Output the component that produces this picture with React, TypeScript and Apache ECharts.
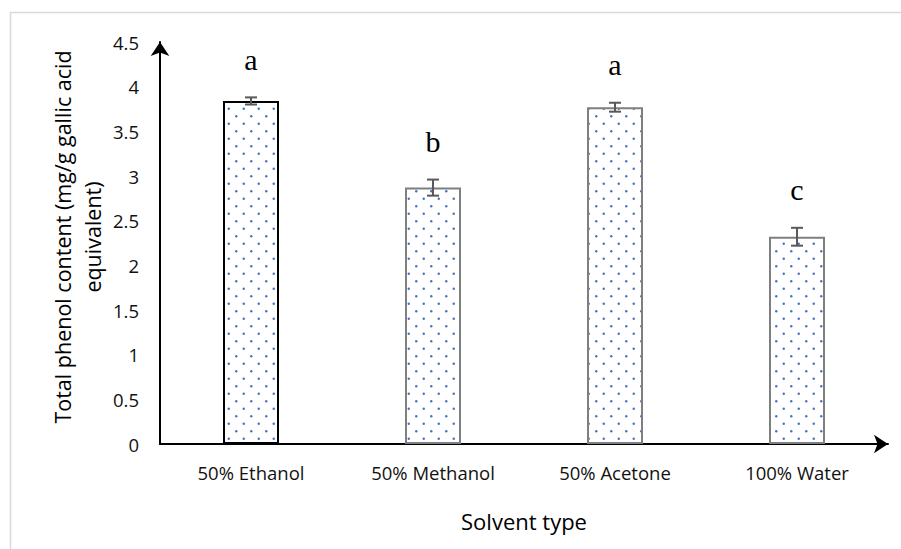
import React, { useEffect, useRef } from "react";
import * as echarts from "echarts";

const categories = ["50% Ethanol", "50% Methanol", "50% Acetone", "100% Water"];
const means = [3.84, 2.87, 3.77, 2.32];
const errors = [0.04, 0.09, 0.05, 0.1];
const letters = ["a", "b", "a", "c"];
const yMin = 0;
const yMax = 4.5;
const yInterval = 0.5;
const xTitle = "Solvent type";
const yTitle = "Total phenol content (mg/g gallic acid\nequivalent)";

export default function App() {
  const ref = useRef<HTMLDivElement>(null);
  useEffect(() => {
    if (!ref.current) return;
    const chart = echarts.init(ref.current, null, { renderer: "svg" });
    const c = document.createElement("canvas");
    c.width = 15;
    c.height = 15;
    const ctx = c.getContext("2d")!;
    ctx.fillStyle = "#ffffff";
    ctx.fillRect(0, 0, 15, 15);
    ctx.fillStyle = "#4472c4";
    ctx.beginPath();
    ctx.arc(3.75, 3.75, 1.2, 0, Math.PI * 2);
    ctx.fill();
    ctx.beginPath();
    ctx.arc(11.25, 11.25, 1.2, 0, Math.PI * 2);
    ctx.fill();
    const pattern = { image: c, repeat: "repeat" };
    const font = "'Open Sans', sans-serif";
    chart.setOption({
      animation: false,
      backgroundColor: "#ffffff",
      grid: { left: 160, right: 13, top: 42, bottom: 105 },
      xAxis: {
        type: "category",
        data: categories,
        name: xTitle,
        nameLocation: "middle",
        nameGap: 66,
        nameTextStyle: { fontFamily: font, fontSize: 22, color: "#000" },
        axisLine: {
          lineStyle: { color: "#000", width: 2 },
          symbol: ["none", "arrow"],
          symbolSize: [14, 14],
        },
        axisTick: { show: false },
        axisLabel: { fontFamily: font, fontSize: 18.5, color: "#111", margin: 19 },
      },
      yAxis: {
        type: "value",
        min: yMin,
        max: yMax,
        interval: yInterval,
        axisLine: {
          show: true,
          lineStyle: { color: "#000", width: 2 },
          symbol: ["none", "arrow"],
          symbolSize: [14, 14],
        },
        axisTick: { show: false },
        splitLine: { show: false },
        axisLabel: { fontFamily: font, fontSize: 18.5, color: "#111", margin: 21 },
      },
      graphic: [
        { type: "line", shape: { x1: 10, y1: 12.5, x2: 901, y2: 12.5 }, style: { stroke: "#d9d9d9", lineWidth: 1.5 } },
        { type: "line", shape: { x1: 10.5, y1: 12, x2: 10.5, y2: 549 }, style: { stroke: "#d9d9d9", lineWidth: 1.5 } },
        {
          type: "text",
          x: 77,
          y: 237,
          rotation: Math.PI / 2,
          style: {
            text: yTitle,
            align: "center",
            verticalAlign: "middle",
            fontFamily: font,
            fontSize: 21.5,
            lineHeight: 30,
            fill: "#000",
          },
        },
      ],
      series: [
        {
          type: "bar",
          barWidth: 56,
          data: means.map((m, i) => ({
            value: m,
            itemStyle: { borderColor: i === 0 ? "#000000" : "#7f7f7f" },
          })),
          itemStyle: { color: pattern, borderWidth: 2 },
        },
        {
          type: "custom",
          z: 5,
          data: means.map((m, i) => [i, m, errors[i]]),
          renderItem: (params: any, api: any) => {
            const i = api.value(0);
            const m = api.value(1);
            const e = api.value(2);
            const top = api.coord([i, m + e]);
            const bot = api.coord([i, m - e]);
            const half = 6;
            const st = { stroke: "#595959", lineWidth: 2 };
            return {
              type: "group",
              children: [
                { type: "line", shape: { x1: top[0], y1: top[1], x2: bot[0], y2: bot[1] }, style: st },
                { type: "line", shape: { x1: top[0] - half, y1: top[1], x2: top[0] + half, y2: top[1] }, style: st },
                { type: "line", shape: { x1: bot[0] - half, y1: bot[1], x2: bot[0] + half, y2: bot[1] }, style: st },
                {
                  type: "text",
                  x: top[0],
                  y: top[1] - 38,
                  style: {
                    text: letters[params.dataIndex],
                    align: "center",
                    verticalAlign: "middle",
                    fontFamily: "'Liberation Serif', serif",
                    fontSize: 30,
                    fill: "#000",
                  },
                },
              ],
            };
          },
        },
      ],
    });
    return () => chart.dispose();
  }, []);
  return <div ref={ref} style={{ position: "absolute", left: 0, top: 0, width: 901, height: 549 }} />;
}
